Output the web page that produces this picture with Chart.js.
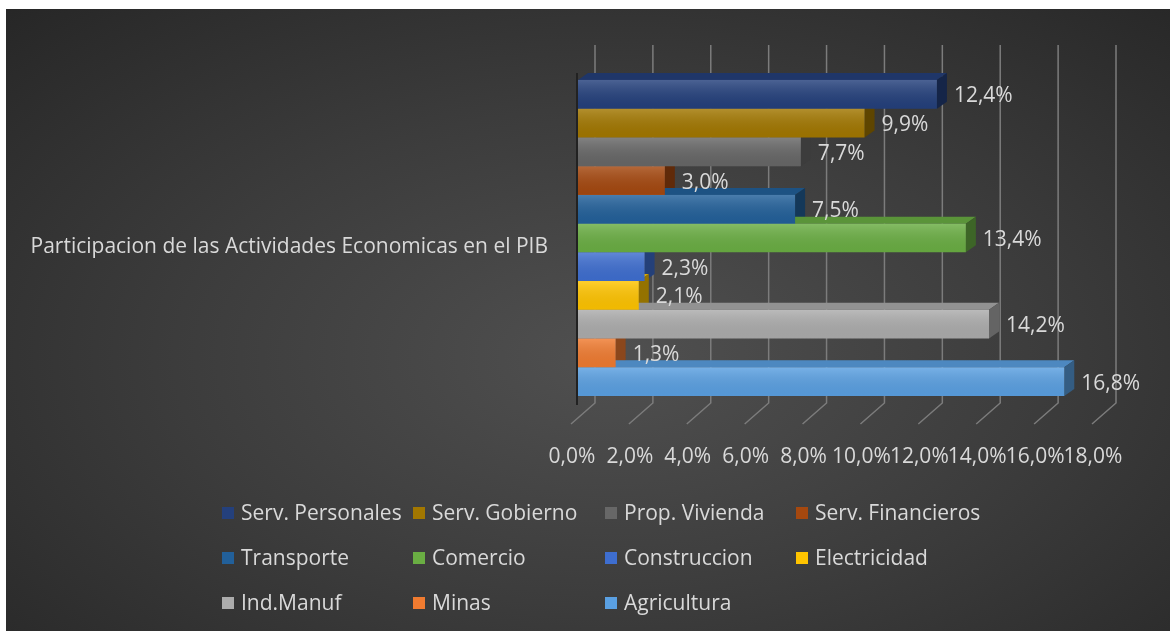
<!DOCTYPE html>
<html>
<head>
<meta charset="utf-8">
<script src="https://cdn.jsdelivr.net/npm/chart.js@4.4.0/dist/chart.umd.min.js"></script>
<style>
body { margin:0; background:#fff; }
#wrap { position:absolute; left:6px; top:9px; width:1164px; height:622px;
  background: radial-gradient(ellipse 75% 80% at 52% 56%, #505050 0%, #3c3c3c 50%, #262626 100%); }
canvas { display:block; }
</style>
</head>
<body>
<div id="wrap"><canvas id="myChart" width="1164" height="622"></canvas></div>
<script>
var categoria = ['Participacion de las Actividades Economicas en el PIB'];
var sectores = ['Serv. Personales', 'Serv. Gobierno', 'Prop. Vivienda', 'Serv. Financieros',
  'Transporte', 'Comercio', 'Construccion', 'Electricidad', 'Ind.Manuf', 'Minas', 'Agricultura'];
var valores = [12.4, 9.9, 7.7, 3.0, 7.5, 13.4, 2.3, 2.1, 14.2, 1.3, 16.8];
var colores = ['#24407c', '#a27700', '#676767', '#a5480f', '#22609a', '#6aae43',
  '#3e6ed0', '#ffc400', '#acacac', '#f07b30', '#5aa0e2'];
var escalaX = [0, 18, 2];

var fuente = 'Open Sans';
var tam = 21;
var gris = '#d9d9d9';

function sombra(hex, f) {
  var r = parseInt(hex.substr(1,2),16), g = parseInt(hex.substr(3,2),16), b = parseInt(hex.substr(5,2),16);
  return 'rgb(' + Math.round(r*f) + ',' + Math.round(g*f) + ',' + Math.round(b*f) + ')';
}

function pct(v) {
  return v.toFixed(1).replace('.', ',') + '%';
}

// pared del fondo, piso y caras 3D de las barras
var fondo3d = {
  id: 'fondo3d',
  beforeDatasetsDraw: function (chart) {
    var c = chart.ctx;
    var xs = chart.scales.x;
    c.save();
    c.strokeStyle = '#7c7c7c';
    c.lineWidth = 1.5;
    for (var v = escalaX[0]; v <= escalaX[1]; v += escalaX[2]) {
      var px = xs.getPixelForValue(v);
      c.beginPath();
      c.moveTo(px + 17, 36);
      c.lineTo(px + 17, 394);
      c.lineTo(px - 7, 415);
      c.stroke();
    }
    // borde oscuro izquierdo
    var x0 = xs.getPixelForValue(0);
    c.strokeStyle = '#222222';
    c.lineWidth = 2;
    c.beginPath();
    c.moveTo(x0 - 1, 64);
    c.lineTo(x0 - 1, 396);
    c.stroke();

    var dx = 10, dy = 7;
    chart.data.datasets.forEach(function (ds, i) {
      var bar = chart.getDatasetMeta(i).data[0];
      var top = bar.y - bar.height / 2, bottom = bar.y + bar.height / 2;
      var base = bar.base, x = bar.x;
      c.fillStyle = sombra(colores[i], 0.85);
      c.beginPath();
      c.moveTo(base, top); c.lineTo(x, top); c.lineTo(x + dx, top - dy); c.lineTo(base + dx, top - dy);
      c.closePath(); c.fill();
      c.fillStyle = sombra(colores[i], 0.58);
      c.beginPath();
      c.moveTo(x, top); c.lineTo(x, bottom); c.lineTo(x + dx, bottom - dy); c.lineTo(x + dx, top - dy);
      c.closePath(); c.fill();
    });
    c.restore();
  },
  afterDatasetsDraw: function (chart) {
    var c = chart.ctx;
    c.save();
    chart.data.datasets.forEach(function (ds, i) {
      var bar = chart.getDatasetMeta(i).data[0];
      var top = bar.y - bar.height / 2, bottom = bar.y + bar.height / 2;
      var g = c.createLinearGradient(0, top, 0, bottom);
      g.addColorStop(0, 'rgba(255,255,255,0.18)');
      g.addColorStop(1, 'rgba(0,0,0,0.05)');
      c.fillStyle = g;
      c.fillRect(bar.base, top, bar.x - bar.base, bottom - top);
      // etiqueta de valor
      c.fillStyle = gris;
      c.font = tam + 'px "' + fuente + '"';
      c.textAlign = 'left';
      c.textBaseline = 'middle';
      c.fillText(pct(ds.data[0]), bar.x + 17, bar.y + 2);
    });
    c.restore();
  }
};

// leyenda en cuadricula de 4 columnas
var leyenda = {
  id: 'leyenda',
  afterDraw: function (chart) {
    var c = chart.ctx;
    var cols = [216, 407, 599, 790];
    var filas = [504, 549, 594];
    c.save();
    c.font = tam + 'px "' + fuente + '"';
    c.textAlign = 'left';
    c.textBaseline = 'middle';
    chart.data.datasets.forEach(function (ds, i) {
      var x = cols[i % 4], y = filas[Math.floor(i / 4)];
      c.fillStyle = colores[i];
      c.fillRect(x, y - 6, 12, 12);
      c.fillStyle = gris;
      c.fillText(ds.label, x + 19, y + 1);
    });
    c.restore();
  }
};

var ctx = document.getElementById('myChart').getContext('2d');
var myChart = new Chart(ctx, {
  type: 'bar',
  data: {
    labels: categoria,
    datasets: sectores.map(function (s, i) {
      return {
        label: s,
        data: [valores[i]],
        backgroundColor: colores[i],
        borderWidth: 0
      };
    })
  },
  options: {
    indexAxis: 'y',
    responsive: false,
    animation: false,
    events: [],
    categoryPercentage: 0.888,
    barPercentage: 1,
    layout: { padding: { left: 0, right: 71, top: 51, bottom: 0 } },
    plugins: {
      legend: { display: false },
      tooltip: { enabled: false }
    },
    scales: {
      x: {
        min: escalaX[0],
        max: escalaX[1],
        grid: { display: false },
        border: { display: false },
        ticks: {
          stepSize: escalaX[2],
          color: gris,
          font: { family: fuente, size: tam },
          padding: 20,
          labelOffset: -6,
          maxRotation: 0,
          autoSkip: false,
          callback: function (v) { return pct(v); }
        },
        afterFit: function (scale) { scale.height = 215; }
      },
      y: {
        grid: { display: false },
        border: { display: false },
        ticks: {
          color: gris,
          font: { family: fuente, size: tam },
          padding: 22,
          labelOffset: 9
        },
        afterFit: function (scale) { scale.width = 572; }
      }
    }
  },
  plugins: [fondo3d, leyenda]
});
</script>
</body>
</html>
